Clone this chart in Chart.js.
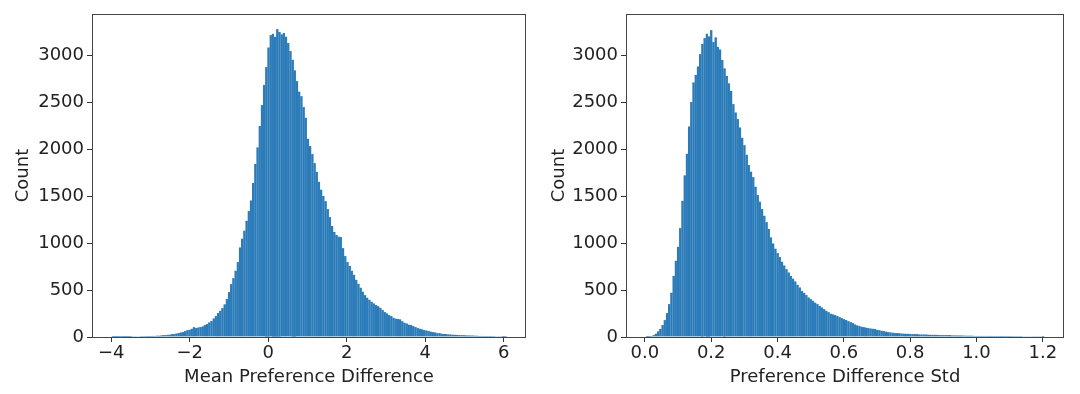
<!DOCTYPE html>
<html>
<head>
<meta charset="utf-8">
<script src="https://cdn.jsdelivr.net/npm/chart.js@4.4.1/dist/chart.umd.min.js"></script>
<style>
  html, body { margin: 0; padding: 0; background: #fff; }
  #wrap { position: relative; width: 1080px; height: 394px; }
  .panel { position: absolute; top: 0; width: 540px; height: 394px; }
</style>
</head>
<body>
<div id="wrap">
  <div class="panel" style="left:0"><canvas id="meanChart" width="540" height="394"></canvas></div>
  <div class="panel" style="left:540px"><canvas id="stdChart" width="540" height="394"></canvas></div>
</div>
<script>
// bin edges of each histogram (first edge, bin width)
const meanBinStart = -3.99;
const meanBinWidth = 0.05589;
const stdBinStart = 0.003;
const stdBinWidth = 0.006672;

// counts per bin
const meanCounts = [
  1, 1, 2, 1, 2, 2, 3, 2, 3, 4,
  4, 5, 5, 6, 6, 7, 8, 8, 9, 11,
  12, 13, 15, 17, 19, 22, 24, 28, 31, 36,
  40, 46, 52, 60, 70, 76, 86, 102, 94, 99,
  104, 112, 126, 136, 154, 168, 196, 222, 254, 278,
  308, 346, 402, 478, 560, 624, 706, 798, 952, 1046,
  1132, 1236, 1338, 1452, 1640, 1842, 2018, 2244, 2468, 2682,
  2872, 3082, 3212, 3228, 3196, 3276, 3248, 3222, 3238, 3198,
  3128, 3044, 2952, 2838, 2722, 2612, 2562, 2448, 2334, 2110,
  2032, 1948, 1852, 1758, 1652, 1568, 1502, 1444, 1362, 1274,
  1182, 1118, 1086, 1068, 1062, 944, 862, 798, 756, 704,
  662, 608, 566, 524, 482, 446, 418, 396, 374, 356,
  338, 326, 310, 286, 264, 250, 230, 222, 204, 194,
  192, 186, 166, 150, 142, 130, 126, 116, 104, 94,
  86, 80, 72, 68, 62, 56, 50, 46, 42, 38,
  34, 32, 29, 27, 25, 24, 22, 21, 19, 18,
  17, 16, 15, 15, 14, 13, 12, 11, 10, 9,
  8, 8, 7, 6, 6, 5, 4, 4, 3, 2
];

const stdCounts = [
  1, 3, 8, 18, 35, 58, 85, 125, 180, 255,
  350, 470, 650, 810, 960, 1160, 1450, 1720, 1950, 2240,
  2500, 2710, 2790, 2880, 3010, 3120, 3180, 3230, 3200, 3265,
  3140, 3190, 3090, 3060, 2950, 2860, 2780, 2700, 2620, 2480,
  2390, 2320, 2230, 2120, 2040, 1940, 1830, 1760, 1700, 1600,
  1510, 1440, 1360, 1290, 1220, 1150, 1060, 995, 940, 890,
  850, 800, 760, 720, 685, 650, 620, 590, 555, 525,
  490, 470, 445, 420, 400, 385, 365, 350, 330, 312,
  296, 280, 262, 248, 240, 232, 222, 210, 198, 188,
  178, 166, 155, 145, 132, 122, 115, 108, 103, 98,
  94, 89, 86, 82, 76, 70, 65, 60, 56, 52,
  48, 45, 42, 40, 38, 36, 35, 34, 33, 32,
  31, 30, 28, 27, 26, 25, 25, 24, 23, 22,
  22, 21, 20, 20, 19, 18, 18, 17, 16, 16,
  15, 15, 14, 14, 13, 13, 12, 12, 11, 11,
  11, 10, 10, 10, 9, 9, 9, 8, 8, 8,
  8, 7, 7, 7, 7, 6, 6, 6, 6, 6,
  5, 5, 5, 5, 5, 4, 4, 4, 4, 3
];

const meanTicks = [-4, -2, 0, 2, 4, 6];
const stdTicks = [0, 0.2, 0.4, 0.6, 0.8, 1.0, 1.2];
const countTicks = [0, 500, 1000, 1500, 2000, 2500, 3000];

Chart.defaults.font.family = "'DejaVu Sans', sans-serif";
Chart.defaults.font.size = 18;
Chart.defaults.color = '#222';
Chart.defaults.animation = false;

// matplotlib style frame around the plot area
const frame = {
    id: 'frame',
    afterDatasetsDraw(chart) {
        const { ctx, chartArea: a } = chart;
        ctx.save();
        ctx.strokeStyle = '#444';
        ctx.lineWidth = 1;
        ctx.strokeRect(Math.round(a.left) + 0.5, Math.round(a.top) + 0.5,
            Math.round(a.right - a.left) - 1, Math.round(a.bottom - a.top));
        ctx.restore();
    }
};

function minusSign(v, digits) {
    const s = Math.abs(v).toFixed(digits);
    return v < 0 ? '\u2212' + s : s;
}

function makeHist(canvasId, opts) {
    const points = opts.counts.map((c, i) => ({
        x: opts.binStart + (i + 0.5) * opts.binWidth,
        y: c
    }));
    return new Chart(document.getElementById(canvasId), {
        type: 'bar',
        data: {
            datasets: [{
                data: points,
                backgroundColor: '#2b7bb9',
                borderColor: '#5d9ac9',
                borderWidth: { top: 0.4, right: 0.35, left: 0, bottom: 0 },
                borderSkipped: false,
                barPercentage: 1,
                categoryPercentage: 1
            }]
        },
        options: {
            responsive: false,
            layout: { padding: { left: 0, top: 14, right: opts.padRight, bottom: 0 } },
            plugins: { legend: { display: false }, tooltip: { enabled: false } },
            scales: {
                x: {
                    type: 'linear',
                    offset: false,
                    min: opts.xMin,
                    max: opts.xMax,
                    afterBuildTicks: s => { s.ticks = opts.xTicks.map(v => ({ value: v })); },
                    afterFit: s => { s.height = 57; },
                    ticks: {
                        padding: 1,
                        autoSkip: false,
                        maxRotation: 0,
                        callback: v => minusSign(v, opts.xDigits)
                    },
                    grid: { offset: false, drawOnChartArea: false, tickLength: 5, color: '#333', lineWidth: 1 },
                    border: { display: false },
                    title: { display: true, text: opts.xTitle, padding: { top: 0, bottom: 6 } }
                },
                y: {
                    min: 0,
                    max: 3440,
                    afterBuildTicks: s => { s.ticks = countTicks.map(v => ({ value: v })); },
                    afterFit: s => { s.width = opts.yWidth; },
                    ticks: { padding: 3, callback: v => String(v) },
                    grid: { offset: false, drawOnChartArea: false, tickLength: 5, color: '#333', lineWidth: 1 },
                    border: { display: false },
                    title: { display: true, text: 'Count', padding: { top: opts.yTitlePad, bottom: 0 } }
                }
            }
        },
        plugins: [frame]
    });
}

makeHist('meanChart', {
    counts: meanCounts, binStart: meanBinStart, binWidth: meanBinWidth,
    xMin: -4.49, xMax: 6.57, xTicks: meanTicks, xDigits: 0,
    xTitle: 'Mean Preference Difference', yWidth: 92, yTitlePad: 13, padRight: 14
});

makeHist('stdChart', {
    counts: stdCounts, binStart: stdBinStart, binWidth: stdBinWidth,
    xMin: -0.057, xMax: 1.264, xTicks: stdTicks, xDigits: 1,
    xTitle: 'Preference Difference Std', yWidth: 86, yTitlePad: 9, padRight: 16
});
</script>
</body>
</html>
